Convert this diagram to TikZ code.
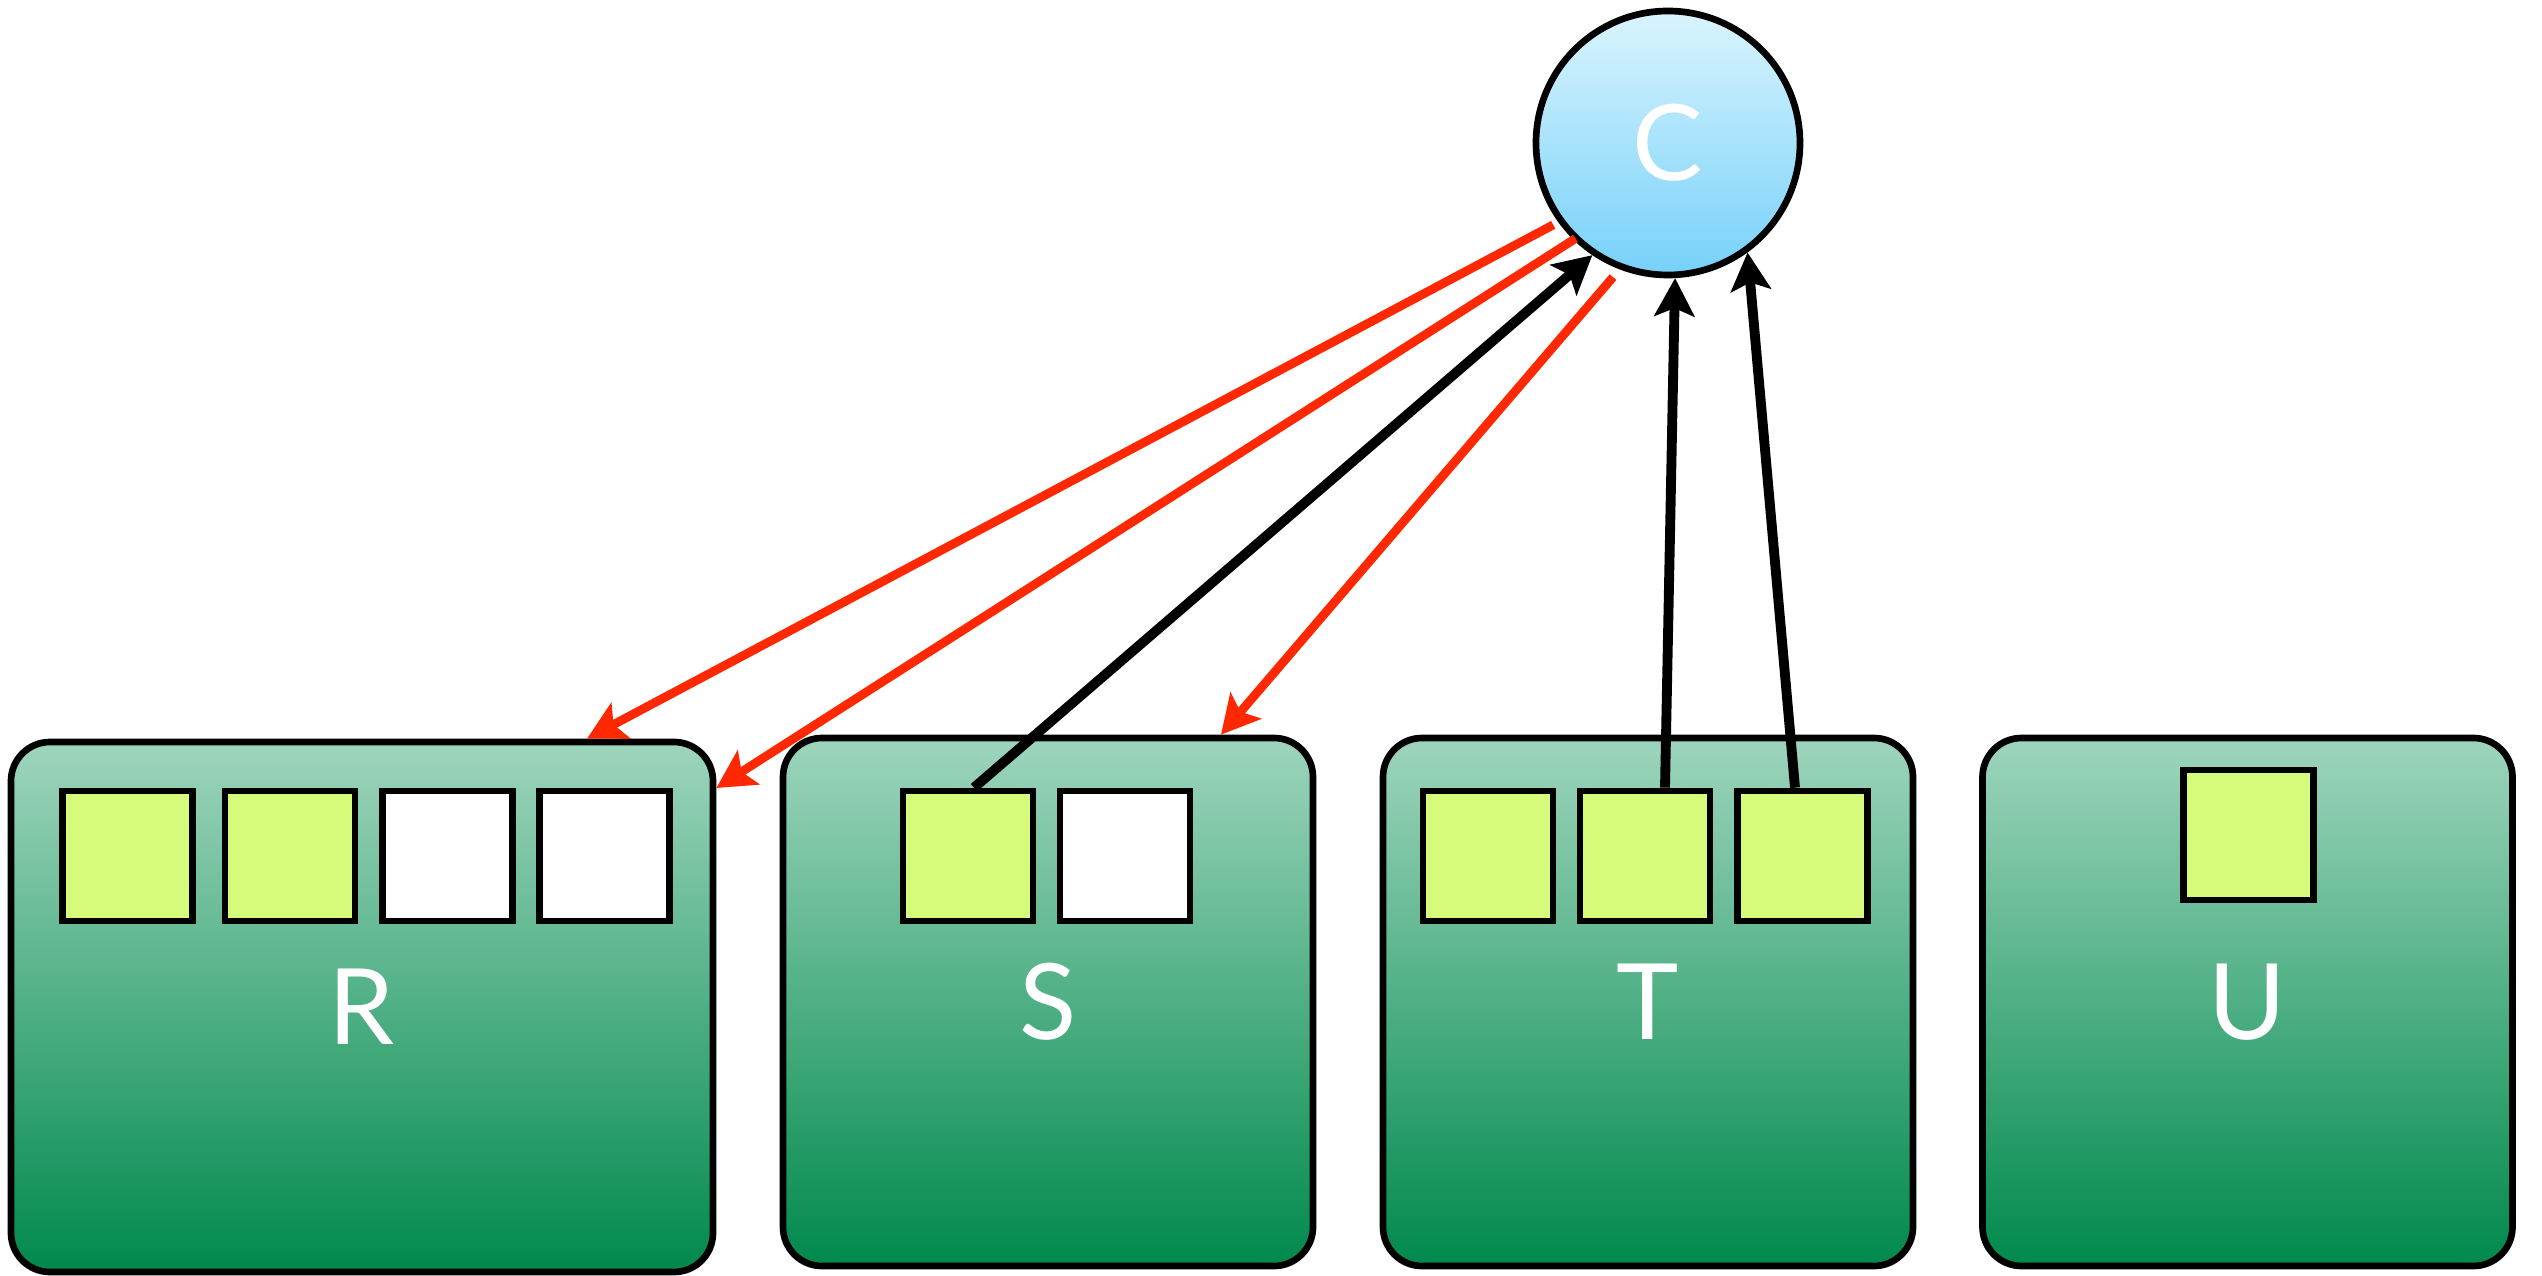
\documentclass[tikz,border=0pt]{standalone}
\usepackage{fontspec}
\setmainfont{Lato}
\usetikzlibrary{arrows.meta,calc}
\definecolor{boxtop}{RGB}{158,213,189}
\definecolor{boxbot}{RGB}{0,137,76}
\definecolor{ctop}{RGB}{218,244,253}
\definecolor{cbot}{RGB}{118,209,250}
\definecolor{slotfill}{RGB}{214,250,122}
\definecolor{redarr}{RGB}{255,40,0}
\tikzset{
  server/.style={draw=black, line width=1.9pt, rounded corners=0.39cm,
    top color=boxtop, bottom color=boxbot, minimum height=5.28cm,
    text=white, font=\fontsize{30}{36}\selectfont, inner sep=0pt},
  fullslot/.style={draw=black, line width=1.9pt, fill=slotfill,
    minimum width=1.30cm, minimum height=1.30cm, inner sep=0pt},
  emptyslot/.style={fullslot, fill=white},
  coord/.style={circle, draw=black, line width=1.9pt, top color=ctop, bottom color=cbot,
    minimum size=2.64cm, inner sep=0pt, text=white, font=\fontsize{30}{36}\selectfont},
  redarrow/.style={draw=redarr, line width=2.5pt,
    -{Stealth[length=0.38cm,width=0.40cm,inset=0.08cm]}},
  blackarrow/.style={draw=black, line width=2.8pt,
    -{Stealth[length=0.38cm,width=0.40cm,inset=0.08cm]}}
}
\begin{document}
\begin{tikzpicture}
\useasboundingbox (0,0) rectangle (25.42,12.75);
% servers
\node[server, minimum width=7.02cm, minimum height=5.30cm] (R) at (3.62,2.68) {R};
\node[server, minimum width=5.30cm] (S) at (10.48,2.73) {S};
\node[server, minimum width=5.30cm] (T) at (16.48,2.73) {T};
\node[server, minimum width=5.30cm] (U) at (22.475,2.73) {U};
% slots
\node[fullslot]  (R1) at (1.275,4.19) {};
\node[fullslot]  (R2) at (2.90,4.19) {};
\node[emptyslot] (R3) at (4.475,4.19) {};
\node[emptyslot] (R4) at (6.045,4.19) {};
\node[fullslot]  (S1) at (9.68,4.19) {};
\node[emptyslot] (S2) at (11.25,4.19) {};
\node[fullslot]  (T1) at (14.88,4.19) {};
\node[fullslot]  (T2) at (16.45,4.19) {};
\node[fullslot]  (T3) at (18.025,4.19) {};
\node[fullslot]  (U1) at (22.485,4.40) {};
% coordinator
\node[coord] (C) at (16.68,11.32) {C};
% red arrows
\draw[redarrow] ([shift={(215.5:1.41)}]C.center) -- ([xshift=2.25cm]R.north);
\draw[redarrow] ([shift={(225.9:1.33)}]C.center) -- ([yshift=2.19cm]R.east);
\draw[redarrow] ([shift={(247.7:1.45)}]C.center) -- ([xshift=1.73cm]S.north);
% black arrows
\draw[blackarrow] ([xshift=0.06cm]S1.north) -- (C.236);
\draw[blackarrow] ([xshift=0.20cm]T2.north) -- (C.273);
\draw[blackarrow] ([xshift=-0.075cm]T3.north) -- (C.306);
\end{tikzpicture}
\end{document}
